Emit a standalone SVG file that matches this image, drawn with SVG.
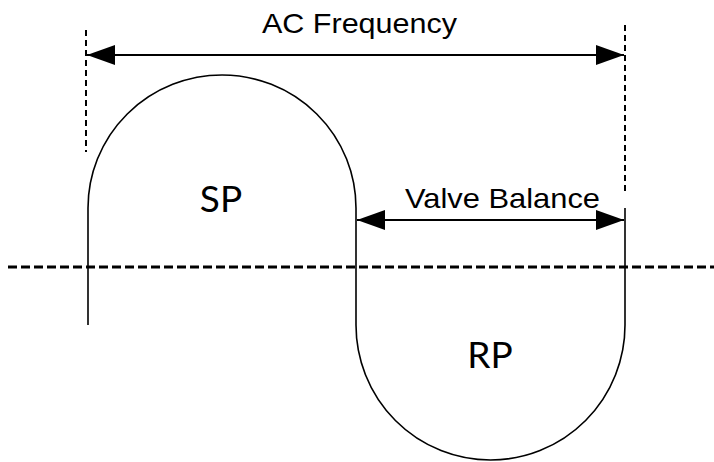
<svg xmlns="http://www.w3.org/2000/svg" width="714" height="462" viewBox="0 0 714 462">
<style>
.wave{fill:none;stroke:#000;stroke-width:1.6}
.dim{fill:none;stroke:#000;stroke-width:1.8}
.ext{fill:none;stroke:#000;stroke-width:2;stroke-dasharray:6,4}
.axis{fill:none;stroke:#000;stroke-width:3;stroke-dasharray:9,4}
.lbl{font-family:"Liberation Sans",Arial,sans-serif;fill:#000}
.big{font-family:Lato,"Noto Sans",sans-serif;font-size:37px;fill:#000}
</style>
<defs>
<marker id="ah" markerWidth="28" markerHeight="20" refX="28" refY="10" orient="auto-start-reverse" markerUnits="userSpaceOnUse">
<path d="M0,0 L28,10 L0,20 Z" fill="#000"/>
</marker>
</defs>
<rect width="714" height="462" fill="#fff"/>
<g id="axis"><line class="axis" x1="8" y1="267" x2="714" y2="267"/></g>
<g id="waveform">
<path class="wave" d="M88,325 L88,208 A134,133 0 0 1 356,208 L356,325 A134.5,135 0 0 0 625,325 L625,208"/>
</g>
<g id="connectors">
<line class="ext" x1="86" y1="30" x2="86" y2="152"/>
<line class="ext" x1="625" y1="25" x2="625" y2="195"/>
<line class="dim" x1="87" y1="55" x2="624" y2="55" marker-start="url(#ah)" marker-end="url(#ah)"/>
<line class="dim" x1="357" y1="220" x2="624" y2="220" marker-start="url(#ah)" marker-end="url(#ah)"/>
</g>
<g id="label-ac"><text class="lbl" x="262" y="33" font-size="28" textLength="195" lengthAdjust="spacingAndGlyphs">AC Frequency</text></g>
<g id="label-vb"><text class="lbl" x="405" y="208" font-size="28" textLength="195" lengthAdjust="spacingAndGlyphs">Valve Balance</text></g>
<g id="sp"><text class="big" x="221" y="212" text-anchor="middle">SP</text></g>
<g id="rp"><text class="big" x="490" y="368" text-anchor="middle">RP</text></g>
</svg>
